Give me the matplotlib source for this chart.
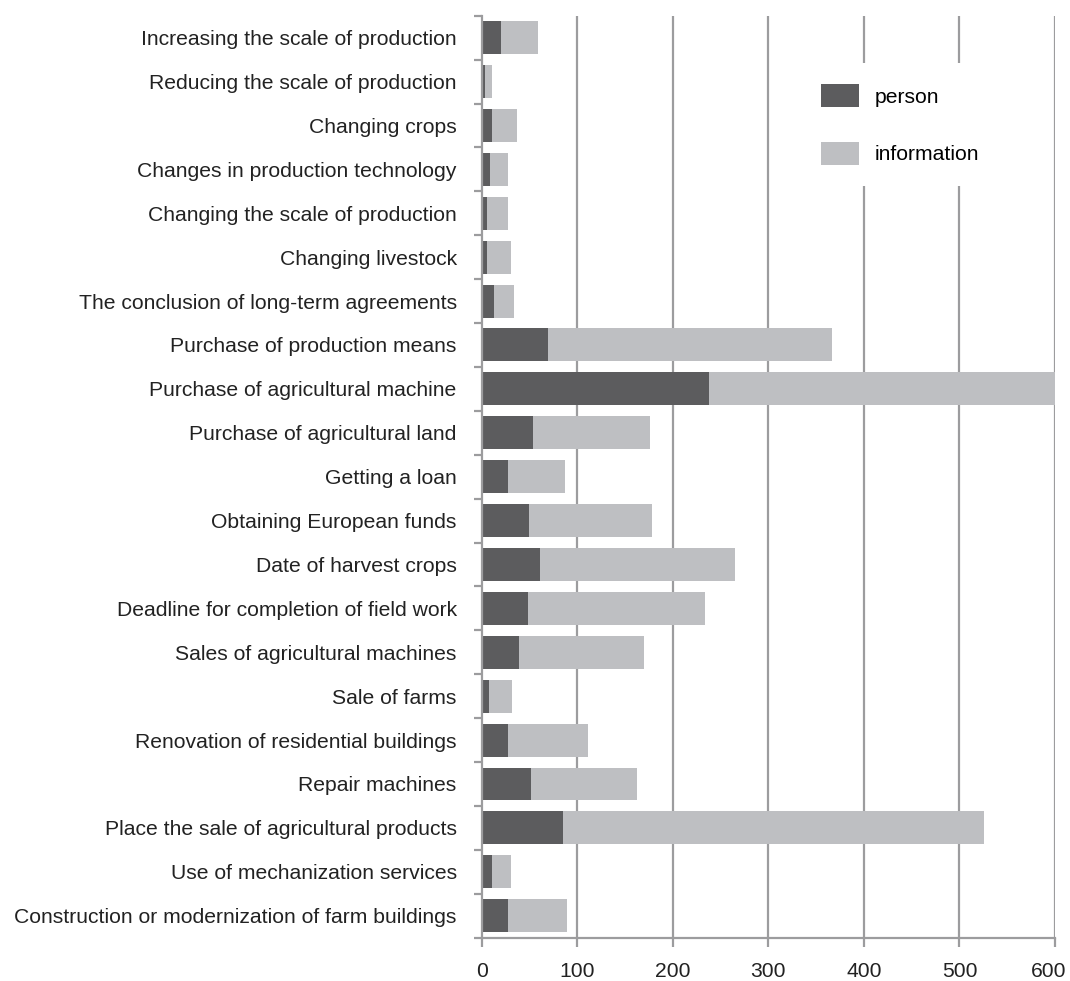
import matplotlib
matplotlib.use('Agg')
import matplotlib.pyplot as plt
import matplotlib.transforms as mtransforms
import numpy

plt.rcParams['font.family'] = ['Liberation Sans', 'DejaVu Sans']

categories = [
    'Increasing the scale of production',
    'Reducing the scale of production',
    'Changing crops',
    'Changes in production technology',
    'Changing the scale of production',
    'Changing livestock',
    'The conclusion of long-term agreements',
    'Purchase of production means',
    'Purchase of agricultural machine',
    'Purchase of agricultural land',
    'Getting a loan',
    'Obtaining European funds',
    'Date of harvest crops',
    'Deadline for completion of field work',
    'Sales of agricultural machines',
    'Sale of farms',
    'Renovation of residential buildings',
    'Repair machines',
    'Place the sale of agricultural products',
    'Use of mechanization services',
    'Construction or modernization of farm buildings',
]

person = [20, 3, 11, 9, 6, 6, 13, 69, 238, 54, 27, 50, 61, 48, 39, 8, 27, 52, 85, 11, 27]
totals = [59, 11, 37, 28, 28, 31, 34, 367, 600, 176, 87, 178, 265, 234, 170, 32, 111, 163, 526, 31, 89]
information = [t - p for t, p in zip(totals, person)]

x_ticks = [0, 100, 200, 300, 400, 500, 600]

DARK = '#5c5c5e'
LIGHT = '#bebfc2'
GRID = '#9c9c9e'
FS = 15.2

fig = plt.figure(figsize=(10.7, 9.81), dpi=100)
ax = fig.add_axes([0.4502, 0.0442, 0.5358, 0.9398])

pos = numpy.arange(len(categories))
ax.barh(pos, person, height=0.75, color=DARK, label='person', zorder=3)
ax.barh(pos, information, left=person, height=0.75, color=LIGHT,
        label='information', zorder=3)

ax.set_xlim(0, 600)
ax.set_ylim(len(categories) - 0.5, -0.5)

# vertical grid lines
for xv in x_ticks[1:]:
    ax.axvline(xv, color=GRID, lw=1.6, zorder=1)

for side in ['top', 'right']:
    ax.spines[side].set_visible(False)
for side in ['left', 'bottom']:
    ax.spines[side].set_color(GRID)
    ax.spines[side].set_linewidth(1.6)
    ax.spines[side].set_zorder(4)

ax.set_yticks(pos)
ax.set_yticklabels(categories, fontsize=FS, color='#222222')
ax.set_yticks(numpy.arange(-0.5, len(categories)), minor=True)
ax.tick_params(axis='y', which='major', length=0, pad=18)
ax.tick_params(axis='y', which='minor', length=6, width=1.6, color=GRID, direction='out')

ax.set_xticks(x_ticks)
ax.set_xticklabels([str(v) for v in x_ticks], fontsize=FS, color='#222222')
ax.tick_params(axis='x', which='major', length=6.5, width=1.6, color=GRID, pad=11)

# nudge the last tick label left so it stays inside the figure
last = ax.get_xticklabels()[-1]
last.set_transform(last.get_transform() +
                   mtransforms.ScaledTranslation(-6 / 100, 0, fig.dpi_scale_trans))

leg = ax.legend(loc='upper left', bbox_to_anchor=(0.555, 0.9487), fontsize=FS,
                frameon=True, fancybox=False, borderpad=1.0, borderaxespad=0,
                handlelength=1.79, handleheight=1.32, labelspacing=1.62,
                handletextpad=0.75)
leg.get_frame().set_facecolor('white')
leg.get_frame().set_edgecolor('none')
leg.get_frame().set_alpha(1.0)
leg.set_zorder(5)

fig.savefig('out.png', dpi=100)
